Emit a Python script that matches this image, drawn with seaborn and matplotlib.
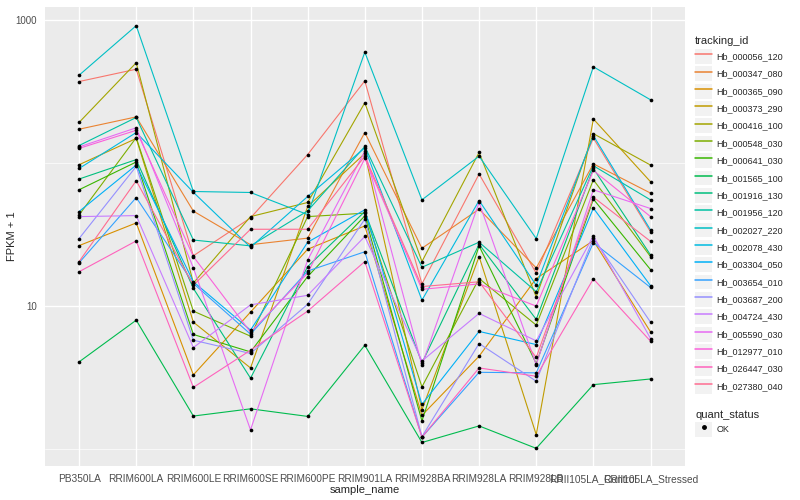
import pandas as pd
import matplotlib
matplotlib.use('Agg')
import matplotlib.pyplot as plt
from matplotlib.lines import Line2D
from matplotlib.patches import Rectangle
from matplotlib.legend_handler import HandlerTuple
from matplotlib.ticker import FixedLocator, NullFormatter
import seaborn as sns

# samples on the x axis
sample_names = ['PB350LA', 'RRIM600LA', 'RRIM600LE', 'RRIM600SE', 'RRIM600PE',
                'RRIM901LA', 'RRIM928BA', 'RRIM928LA', 'RRIM928LB',
                'RRII105LA_Control', 'RRII105LA_Stressed']

tracking_ids = ['Hb_000056_120', 'Hb_000347_080', 'Hb_000365_090', 'Hb_000373_290',
                'Hb_000416_100', 'Hb_000548_030', 'Hb_000641_030', 'Hb_001565_100',
                'Hb_001916_130', 'Hb_001956_120', 'Hb_002027_220', 'Hb_002078_430',
                'Hb_003304_050', 'Hb_003654_010', 'Hb_003687_200', 'Hb_004724_430',
                'Hb_005590_030', 'Hb_012977_010', 'Hb_026447_030', 'Hb_027380_040']

# FPKM + 1 per gene, one value per sample
hb_000056_120 = [373, 455, 22.5, 41.4, 115, 377, 14.3, 84, 17.0, 150, 33.1]
hb_000347_080 = [173, 211, 46.2, 26.9, 29.9, 164, 25.4, 47.7, 18.5, 99, 61.8]
hb_000365_090 = [26.5, 38.2, 3.30, 9.08, 25.0, 36.4, 1.72, 4.46, 15.6, 28.7, 6.60]
hb_000373_290 = [97.6, 149, 7.72, 3.69, 49.8, 117, 1.88, 22.2, 1.26, 204, 74.2]
hb_000416_100 = [193, 505, 14.5, 42.3, 53.1, 265, 20.5, 119, 11.6, 161, 97.1]
hb_000548_030 = [43.5, 151, 9.22, 6.16, 42.3, 44.7, 2.72, 15.6, 7.36, 76.6, 22.2]
hb_000641_030 = [65.2, 102, 6.33, 4.78, 16.1, 42.8, 1.57, 26.4, 3.96, 56.1, 18.0]
hb_001565_100 = [4.07, 7.97, 1.70, 1.91, 1.69, 5.32, 1.11, 1.45, 1.01, 2.82, 3.09]
hb_001916_130 = [77.5, 106, 13.3, 3.13, 18.9, 45.9, 4.00, 27.1, 8.07, 91.9, 22.8]
hb_001956_120 = [133, 209, 29.0, 26.4, 46.4, 131, 18.7, 28.0, 12.6, 96, 55.4]
hb_002027_220 = [413, 918, 63.4, 62.4, 43.7, 599, 55.4, 112, 29.7, 473, 278]
hb_002078_430 = [91.9, 164, 62.6, 25.8, 58.5, 128, 11.0, 54.8, 14.0, 156, 34.1]
hb_003304_050 = [45.9, 97.1, 14.8, 6.79, 28.0, 47.2, 2.05, 6.65, 5.38, 48.5, 13.9]
hb_003654_010 = [20.1, 57.5, 14.4, 6.36, 17.6, 24.0, 1.21, 3.44, 3.41, 27.8, 13.5]
hb_003687_200 = [29.7, 95.0, 5.77, 4.66, 10.3, 40.6, 1.22, 5.47, 2.98, 29.9, 7.72]
hb_004724_430 = [42.3, 43.0, 5.13, 10.2, 11.9, 30.7, 4.13, 8.89, 5.71, 31.0, 5.93]
hb_005590_030 = [130, 177, 18.5, 1.36, 21.0, 121, 3.86, 53.1, 3.89, 65.2, 48.2]
hb_012977_010 = [127, 170, 22.2, 6.57, 17.0, 108, 13.1, 14.3, 10.0, 89.0, 42.3]
hb_026447_030 = [17.4, 28.6, 2.70, 4.91, 9.22, 20.5, 1.21, 3.69, 3.23, 15.5, 5.68]
hb_027380_040 = [20.5, 75.4, 14.0, 34.5, 34.5, 112, 13.7, 14.8, 4.37, 57.9, 28.4]

all_values = [hb_000056_120, hb_000347_080, hb_000365_090, hb_000373_290,
              hb_000416_100, hb_000548_030, hb_000641_030, hb_001565_100,
              hb_001916_130, hb_001956_120, hb_002027_220, hb_002078_430,
              hb_003304_050, hb_003654_010, hb_003687_200, hb_004724_430,
              hb_005590_030, hb_012977_010, hb_026447_030, hb_027380_040]

# ggplot default hue palette for 20 levels
colors = ['#F8766D', '#EA8331', '#D89000', '#C09B00', '#A3A500', '#7CAE00',
          '#39B600', '#00BB4E', '#00BF7D', '#00C1A3', '#00BFC4', '#00BAE0',
          '#00B0F6', '#35A2FF', '#9590FF', '#C77CFF', '#E76BF3', '#FA62DB',
          '#FF62BC', '#FF6C91']

rows = []
for tid, vals in zip(tracking_ids, all_values):
    for s, v in zip(sample_names, vals):
        rows.append({'tracking_id': tid, 'sample_name': s, 'fpkm': v})
df = pd.DataFrame(rows)

sns.set_style('white')
plt.rcParams['font.family'] = ['Liberation Sans', 'DejaVu Sans']

fig = plt.figure(figsize=(8, 5), dpi=100)
ax = fig.add_axes([0.056, 0.068, 0.80, 0.918])
ax.set_facecolor('#EBEBEB')

sns.lineplot(data=df, x='sample_name', y='fpkm', hue='tracking_id',
             palette=colors, estimator=None, sort=False, lw=0.8,
             legend=False, ax=ax, zorder=3)
sns.scatterplot(data=df, x='sample_name', y='fpkm', color='black', s=7,
                edgecolor=None, linewidth=0, legend=False, ax=ax, zorder=4)

ax.set_yscale('log')
ax.set_ylim(0.76, 1240)
ax.set_xlim(-0.6, len(sample_names) - 0.4)
ax.yaxis.set_major_locator(FixedLocator([10, 1000]))
ax.set_yticklabels(['10', '1000'])
ax.yaxis.set_minor_locator(FixedLocator([1, 100]))
ax.yaxis.set_minor_formatter(NullFormatter())

ax.grid(which='major', color='white', lw=1.0, zorder=0)
ax.grid(which='minor', axis='y', color='white', lw=0.5, zorder=0)
ax.set_axisbelow(True)
for sp in ax.spines.values():
    sp.set_visible(False)

ax.tick_params(which='major', length=2.5, width=0.6, color='#333333',
               labelsize=7.3, labelcolor='#4D4D4D', pad=3)
ax.tick_params(axis='y', labelsize=7)
ax.tick_params(which='minor', length=0)
ax.set_xlabel('sample_name', fontsize=8, labelpad=1)
ax.set_ylabel('FPKM + 1', fontsize=8, labelpad=-1)

# legends, ggplot style keys
key_bg = '#F2F2F2'
legend_kw = dict(loc='upper left', frameon=False, title_fontsize=8, fontsize=6.5,
                 handler_map={tuple: HandlerTuple(ndivide=1, pad=0)},
                 handlelength=1.9, handleheight=2.15, labelspacing=0.28,
                 handletextpad=0.45, borderpad=0, borderaxespad=0,
                 alignment='left')

handles = []
for c in colors:
    handles.append((Rectangle((0, 0), 1, 1, facecolor=key_bg, edgecolor='none'),
                    Line2D([], [], color=c, lw=1.1)))
leg1 = fig.legend(handles, tracking_ids, bbox_to_anchor=(0.869, 0.927),
                  title='tracking_id', **legend_kw)

ok_handle = (Rectangle((0, 0), 1, 1, facecolor=key_bg, edgecolor='none'),
             Line2D([], [], color='black', marker='o', ls='none', markersize=2.5))
leg2 = fig.legend([ok_handle], ['OK'], bbox_to_anchor=(0.869, 0.181),
                  title='quant_status', **legend_kw)

fig.savefig('out.png', dpi=100)
